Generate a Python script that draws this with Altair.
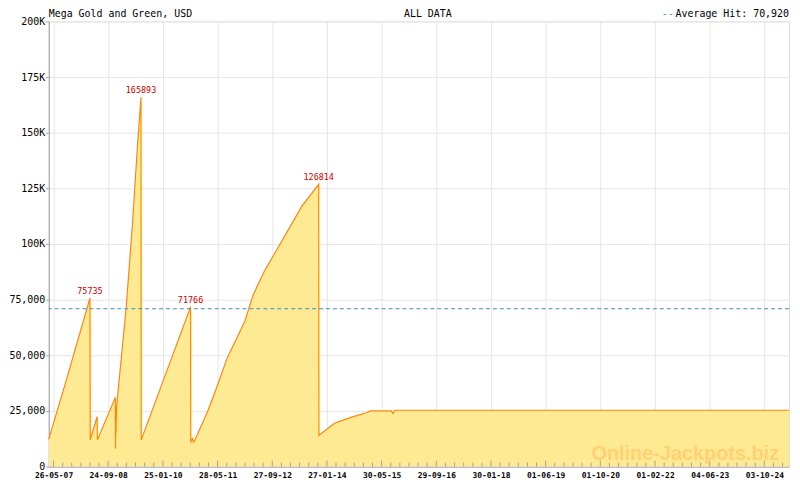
import altair as alt
import pandas as pd

# ---- series ----
dates = ["2007-04-13", "2007-09-10", "2008-04-15", "2008-04-17", "2008-06-17",
         "2008-06-20", "2008-11-27", "2008-11-28", "2008-12-01", "2008-12-02",
         "2008-12-08", "2009-03-03", "2009-04-30", "2009-06-13", "2009-07-14",
         "2009-07-16", "2010-09-29", "2010-10-01", "2010-10-16", "2010-10-25",
         "2010-11-03", "2011-02-27", "2011-05-25", "2011-08-20", "2012-01-27",
         "2012-04-08", "2012-07-19", "2012-10-28", "2013-04-05", "2013-06-18",
         "2013-11-15", "2013-11-17", "2014-04-04", "2014-08-27", "2015-01-20",
         "2015-02-18", "2015-08-25", "2015-09-08", "2015-09-23", "2025-05-11"]
values = [12200, 37700, 75735, 12000, 22400,
          12000, 31100, 8000, 20000, 14500,
          27000, 71000, 110000, 144700, 165893,
          12000, 71766, 11200, 12500, 11000,
          11500, 24600, 36200, 48600, 65400,
          77000, 87900, 96600, 110500, 117000,
          126814, 14100, 19500, 22100, 24300,
          25000, 25000, 23800, 25300, 25300]

peak_dates = ["2008-04-15", "2009-07-14", "2010-09-29", "2013-11-15"]
peak_values = [75735, 165893, 71766, 126814]

average_hit = 70920

tick_dates = ["2007-05-26", "2008-09-24", "2010-01-25", "2011-05-28", "2012-09-27",
              "2014-01-27", "2015-05-30", "2016-09-29", "2018-01-30", "2019-06-01",
              "2020-10-01", "2022-02-01", "2023-06-04", "2024-10-03"]
x_domain = ["2007-04-13", "2025-05-11"]
y_ticks = [0, 25000, 50000, 75000, 100000, 125000, 150000, 175000, 200000]

title_left = "Mega Gold and Green, USD"
title_mid = "ALL DATA"
legend_text = "Average Hit: 70,920"
watermark = "Online-Jackpots.biz"

# ---- build tables ----
W, H = 745, 448
MONO = "DejaVu Sans Mono"


def dt(s):
    t = pd.Timestamp(s)
    return alt.DateTime(year=t.year, month=t.month, date=t.day)


df = pd.DataFrame({"date": pd.to_datetime(dates), "value": values})
peaks = pd.DataFrame({"date": pd.to_datetime(peak_dates), "value": peak_values,
                      "label": [str(v) for v in peak_values]})
avg = pd.DataFrame({"value": [average_hit]})

majors = pd.to_datetime(tick_dates)
minor_list = []
for a, b in zip(majors[:-1], majors[1:]):
    step = (b - a) / 6
    for k in range(1, 6):
        minor_list.append(a + step * k)
last_step = (majors[-1] - majors[-2]) / 6
end = pd.Timestamp(x_domain[1])
k = 1
while majors[-1] + last_step * k < end:
    minor_list.append(majors[-1] + last_step * k)
    k += 1
major_df = pd.DataFrame({"date": majors})
minor_df = pd.DataFrame({"date": pd.to_datetime(minor_list)})

xscale = alt.Scale(domain=[dt(x_domain[0]), dt(x_domain[1])])
yscale = alt.Scale(domain=[0, 200000])

x_axis = alt.Axis(values=[dt(s) for s in tick_dates], format="%d-%m-%y",
                  ticks=False, tickSize=0, labelPadding=5,
                  labelFont=MONO, labelFontSize=8, labelFontWeight="bold",
                  labelColor="#000000", grid=True, gridColor="#e6e6e6",
                  domainColor="#a0a0a0", labelOverlap=False)
y_axis = alt.Axis(values=y_ticks, tickSize=3, tickColor="#a0a0a0",
                  labelPadding=1, labelFont=MONO, labelFontSize=10,
                  labelColor="#000000", grid=True, gridColor="#e6e6e6",
                  domainColor="#a0a0a0",
                  labelExpr="datum.value >= 100000 ? format(datum.value/1000, 'd') + 'K' : format(datum.value, ',')")

X = lambda: alt.X("date:T", scale=xscale, title=None, axis=x_axis)
Y = lambda: alt.Y("value:Q", scale=yscale, title=None, axis=y_axis)

area = alt.Chart(df).mark_area(
    color="#ffea94", opacity=1,
    line={"color": "#ff8800", "strokeWidth": 1.2},
).encode(x=X(), y=Y())

avg_rule = alt.Chart(avg).mark_rule(color="#3d8fbf", strokeDash=[4, 3], strokeWidth=1).encode(
    y=Y()
)

peak_text = alt.Chart(peaks).mark_text(
    color="#cc0000", font=MONO, fontSize=8.5, baseline="bottom", dy=-2
).encode(x=X(), y=Y(), text="label:N")

major_ticks = alt.Chart(major_df).mark_rule(color="#a0a0a0").encode(
    x=X(), y=alt.value(H), y2=alt.value(H - 6),
)
minor_ticks = alt.Chart(minor_df).mark_rule(color="#a0a0a0").encode(
    x=X(), y=alt.value(H), y2=alt.value(H - 4),
)


def label(text, x, align, color="#000000"):
    return alt.Chart(pd.DataFrame({"t": [text]})).mark_text(
        font=MONO, fontSize=10, align=align, baseline="alphabetic", color=color
    ).encode(x=alt.value(x), y=alt.value(-4), text="t:N")


t_left = label(title_left, 0, "left")
t_mid = label(title_mid, W / 2 + 9, "center")
t_leg = label(legend_text, W, "right")
t_dash = label("--", W - 116, "right", color="#3d8fbf")

wm = alt.Chart(pd.DataFrame({"t": [watermark]})).mark_text(
    font="Liberation Sans", fontSize=20, fontWeight="bold", align="right",
    baseline="alphabetic", color="#ffc96b", opacity=0.75
).encode(x=alt.value(W - 10), y=alt.value(H - 7), text="t:N")

chart = alt.layer(
    area, avg_rule, major_ticks, minor_ticks, peak_text, wm,
    t_left, t_mid, t_leg, t_dash
).properties(
    width=W, height=H, padding={"left": 0, "top": 0, "right": 0, "bottom": 0}
).configure_view(
    stroke="#a0a0a0"
).configure(
    background="#ffffff"
)

chart.save("out.html", embed_options={"renderer": "svg", "actions": False})
